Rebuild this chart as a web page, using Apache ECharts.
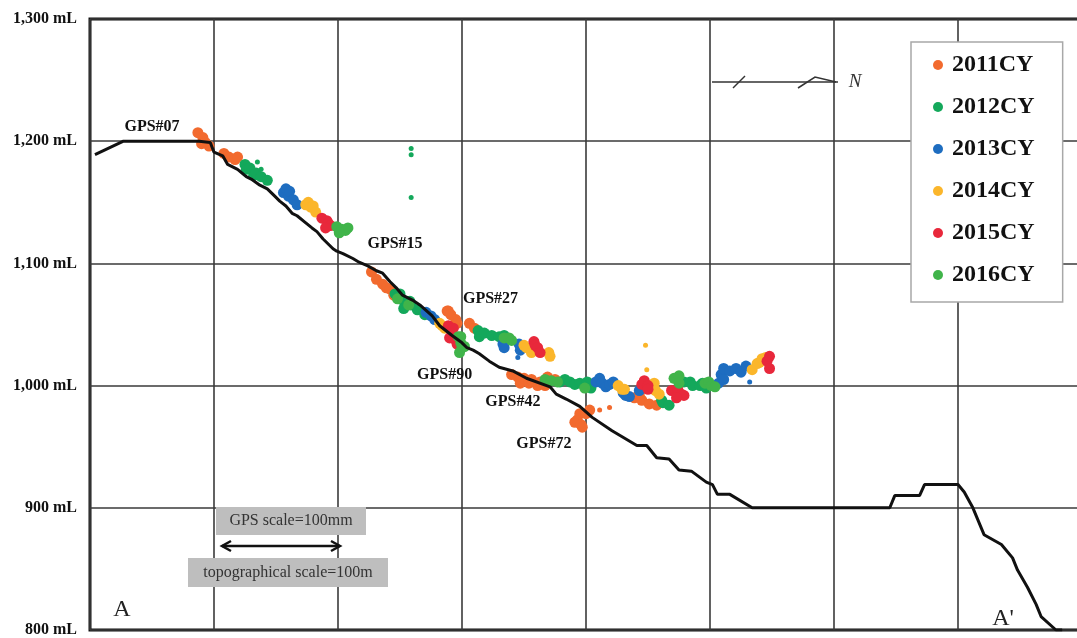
<!DOCTYPE html>
<html>
<head>
<meta charset="utf-8">
<script src="https://cdn.jsdelivr.net/npm/echarts@6/dist/echarts.min.js"></script>
<style>
  html, body { margin: 0; padding: 0; background: #fff; overflow: hidden; }
  /* the section continues past the right edge of the page */
  #chart { width: 1092px; height: 638px; }
</style>
</head>
<body>
<div id="chart"></div>
<script>
// Section A–A': ground profile (distance in m along the section, elevation in mL)
const groundProfile = [[4,1189],[27,1200],[88,1200],[97,1199],[100,1191],[107,1188],[111,1181],[119,1177],[126,1171],[130,1169],[137,1164],[143,1161],[149,1155],[153,1151],[158,1147],[163,1141],[167,1139],[173,1134],[179,1129],[183,1126],[188,1120],[196,1112],[199,1110],[204,1108],[212,1104],[217,1101],[224,1098],[231,1094],[236,1092],[242,1085],[247,1080],[252,1074],[260,1070],[266,1066],[276,1057],[282,1049],[292,1041],[300,1035],[304,1031],[309,1029],[314,1026],[322,1020],[330,1015],[341,1012],[352,1006],[371,999],[376,993],[384,989],[395,983],[405,974],[421,963],[441,951],[449,951],[457,941],[467,940],[475,931],[485,930],[497,921],[502,919],[506,911],[516,911],[534,900],[645,900],[649,910],[669,910],[673,919],[700,919],[705,913],[712,900],[721,878],[735,870],[744,859],[748,849],[756,835],[763,821],[767,811],[779,800],[784,800]];

// GPS positions by calendar year
const gps2011 = [[87,1207],[91,1203],[93,1199],[96,1196],[90,1198],[108,1190],[112,1187],[117,1185],[119,1187],[227,1093],[231,1087],[236,1083],[239,1080],[242,1079],[245,1074],[288,1061],[289,1061],[291,1058],[295,1054],[296,1051],[306,1051],[310,1047],[340,1009],[345,1007],[347,1002],[350,1006],[354,1002],[356,1005],[361,1000],[363,1003],[367,1000],[369,1004],[369,1007],[375,1005],[391,970],[393,972],[396,968],[397,966],[395,977],[400,977],[403,980],[439,990],[443,992],[445,988],[451,985],[457,984]];
const gps2011Sparse = [[411,980],[419,982]];

const gps2012 = [[125,1181],[126,1177],[129,1178],[132,1172],[134,1174],[138,1171],[143,1168],[246,1075],[250,1075],[250,1071],[254,1067],[253,1063],[258,1069],[259,1066],[264,1062],[270,1058],[313,1045],[314,1040],[318,1043],[324,1041],[330,1040],[334,1041],[379,1003],[383,1005],[387,1003],[391,1001],[395,1002],[401,1003],[404,998],[479,1003],[484,1003],[486,1000],[492,1000],[494,1002],[497,998],[461,988],[462,986],[467,984]];
const gps2012Sparse = [[135,1183],[138,1177],[259,1194],[259,1189],[259,1154]];

const gps2013 = [[156,1158],[158,1161],[160,1155],[161,1159],[164,1152],[167,1148],[271,1060],[275,1057],[278,1054],[333,1034],[334,1031],[346,1034],[347,1029],[408,1003],[411,1006],[413,1002],[416,999],[419,1001],[422,1003],[430,994],[432,992],[435,991],[443,996],[507,1002],[509,1009],[511,1005],[511,1014],[516,1012],[521,1014],[525,1011],[529,1016]];
const gps2013Sparse = [[345,1023],[532,1003]];

const gps2014 = [[174,1148],[176,1150],[178,1146],[180,1147],[182,1142],[282,1051],[284,1049],[286,1047],[350,1033],[352,1031],[356,1027],[370,1027],[371,1024],[426,1000],[429,997],[431,997],[454,1000],[455,1002],[456,996],[459,993],[534,1013],[538,1018],[540,1019],[542,1022],[545,1023]];
const gps2014Sparse = [[449,1013],[448,1033]];

const gps2015 = [[187,1137],[191,1135],[192,1133],[194,1131],[190,1129],[289,1049],[292,1043],[293,1047],[294,1038],[296,1039],[296,1034],[290,1039],[358,1036],[359,1033],[361,1031],[363,1027],[445,1001],[447,1004],[450,1000],[450,997],[469,996],[474,993],[474,997],[477,993],[479,992],[473,990],[546,1020],[548,1014],[548,1024]];

const gps2016 = [[199,1130],[203,1128],[206,1127],[208,1129],[201,1125],[248,1071],[257,1066],[297,1040],[299,1040],[299,1035],[300,1031],[302,1032],[298,1027],[334,1039],[338,1039],[340,1037],[367,1005],[372,1004],[377,1003],[399,998],[471,1006],[475,1008],[475,1002],[496,1002],[499,1003],[501,1000],[504,999]];

const yearNames = ['2011CY','2012CY','2013CY','2014CY','2015CY','2016CY'];
const yearColors = ['#F26A2E','#14A85B','#1E6DC0','#FBB62B','#E8283B','#40B44A'];

// Station labels along the section
const stationNames = ['GPS#07','GPS#15','GPS#27','GPS#90','GPS#42','GPS#72'];
const stationAnchors = [[50,1212],[246,1116],[323,1071],[286,1009],[341,987],[366,952]];

const elevationTicks = [800, 900, 1000, 1100, 1200, 1300];

const SERIF = '"Liberation Serif", "Times New Roman", serif';

const chart = echarts.init(document.getElementById('chart'), null, { renderer: 'canvas' });

function yearSeries(i, data, size) {
  return {
    name: yearNames[i],
    type: 'scatter',
    data: data,
    symbol: 'circle',
    symbolSize: size,
    itemStyle: { color: yearColors[i], opacity: 1 },
    emphasis: { disabled: true },
    silent: true
  };
}

const option = {
  animation: false,
  backgroundColor: '#fff',
  grid: {
    left: 90, top: 19, width: 992, height: 614,
    show: true, borderColor: '#111', borderWidth: 3, backgroundColor: 'transparent'
  },
  xAxis: {
    type: 'value', min: 0, max: 800, interval: 100,
    axisLine: { show: false }, axisTick: { show: false }, axisLabel: { show: false },
    splitLine: { show: true, lineStyle: { color: '#3a3a3a', width: 1.6 } }
  },
  yAxis: {
    type: 'value', min: elevationTicks[0], max: elevationTicks[elevationTicks.length - 1], interval: 100,
    axisLine: { show: false }, axisTick: { show: false },
    axisLabel: {
      margin: 13, color: '#111', fontFamily: SERIF, fontWeight: 'bold', fontSize: 16,
      formatter: v => v.toLocaleString('en-US') + ' mL'
    },
    splitLine: { show: true, lineStyle: { color: '#3a3a3a', width: 1.6 } }
  },
  legend: {
    data: yearNames,
    orient: 'vertical',
    left: 911, top: 42,
    padding: [11, 28, 15, 22],
    itemGap: 18,
    itemWidth: 10, itemHeight: 10,
    icon: 'circle',
    backgroundColor: '#fff',
    borderColor: '#a8a8a8', borderWidth: 1.5,
    selectedMode: false,
    textStyle: { fontFamily: SERIF, fontWeight: 'bold', fontSize: 24, lineHeight: 24, color: '#111', padding: [0, 0, 0, 4] }
  },
  series: [
    {
      name: 'profile',
      type: 'line',
      data: groundProfile,
      symbol: 'none',
      lineStyle: { color: '#111', width: 3 },
      silent: true,
      markPoint: {
        symbol: 'circle', symbolSize: 1,
        itemStyle: { color: 'rgba(0,0,0,0)' },
        label: {
          show: true, position: 'inside', formatter: '{b}',
          fontFamily: SERIF, fontWeight: 'bold', fontSize: 16, color: '#111'
        },
        data: stationNames.map((n, i) => ({ name: n, coord: stationAnchors[i] }))
      }
    },
    yearSeries(0, gps2011, 11),
    yearSeries(0, gps2011Sparse, 5),
    yearSeries(1, gps2012, 11),
    yearSeries(1, gps2012Sparse, 5),
    yearSeries(2, gps2013, 11),
    yearSeries(2, gps2013Sparse, 5),
    yearSeries(3, gps2014, 11),
    yearSeries(3, gps2014Sparse, 5),
    yearSeries(4, gps2015, 11),
    yearSeries(5, gps2016, 11)
  ],
  graphic: [
    // scale bar
    { type: 'rect', z: 100, shape: { x: 216, y: 507, width: 150, height: 28 }, style: { fill: '#BEBEBE' } },
    { type: 'text', z: 101, x: 291, y: 521, style: { text: 'GPS scale=100mm', fontFamily: SERIF, fontSize: 16, fill: '#333', align: 'center', verticalAlign: 'middle' } },
    { type: 'rect', z: 100, shape: { x: 188, y: 558, width: 200, height: 29 }, style: { fill: '#BEBEBE' } },
    { type: 'text', z: 101, x: 288, y: 572.5, style: { text: 'topographical scale=100m', fontFamily: SERIF, fontSize: 16, fill: '#333', align: 'center', verticalAlign: 'middle' } },
    { type: 'line', z: 101, shape: { x1: 222, y1: 546, x2: 340, y2: 546 }, style: { stroke: '#111', lineWidth: 2.5 } },
    { type: 'polyline', z: 101, shape: { points: [[231, 541], [222, 546], [231, 551]] }, style: { stroke: '#111', lineWidth: 2.5, fill: null } },
    { type: 'polyline', z: 101, shape: { points: [[331, 541], [340, 546], [331, 551]] }, style: { stroke: '#111', lineWidth: 2.5, fill: null } },
    // north arrow
    { type: 'line', z: 101, shape: { x1: 712, y1: 82, x2: 838, y2: 82 }, style: { stroke: '#333', lineWidth: 1.5 } },
    { type: 'line', z: 101, shape: { x1: 733, y1: 88, x2: 745, y2: 76 }, style: { stroke: '#333', lineWidth: 1.5 } },
    { type: 'polyline', z: 101, shape: { points: [[798, 88], [815, 77], [836, 82]] }, style: { stroke: '#333', lineWidth: 1.5, fill: null } },
    { type: 'text', z: 101, x: 855, y: 82, style: { text: 'N', fontFamily: SERIF, fontStyle: 'italic', fontSize: 19, fill: '#333', align: 'center', verticalAlign: 'middle' } },
    // section ends
    { type: 'text', z: 101, x: 122, y: 610, style: { text: 'A', fontFamily: SERIF, fontSize: 24, fill: '#222', align: 'center', verticalAlign: 'middle' } },
    { type: 'text', z: 101, x: 1003, y: 619, style: { text: "A'", fontFamily: SERIF, fontSize: 24, fill: '#222', align: 'center', verticalAlign: 'middle' } }
  ]
};

chart.setOption(option);
</script>
</body>
</html>
